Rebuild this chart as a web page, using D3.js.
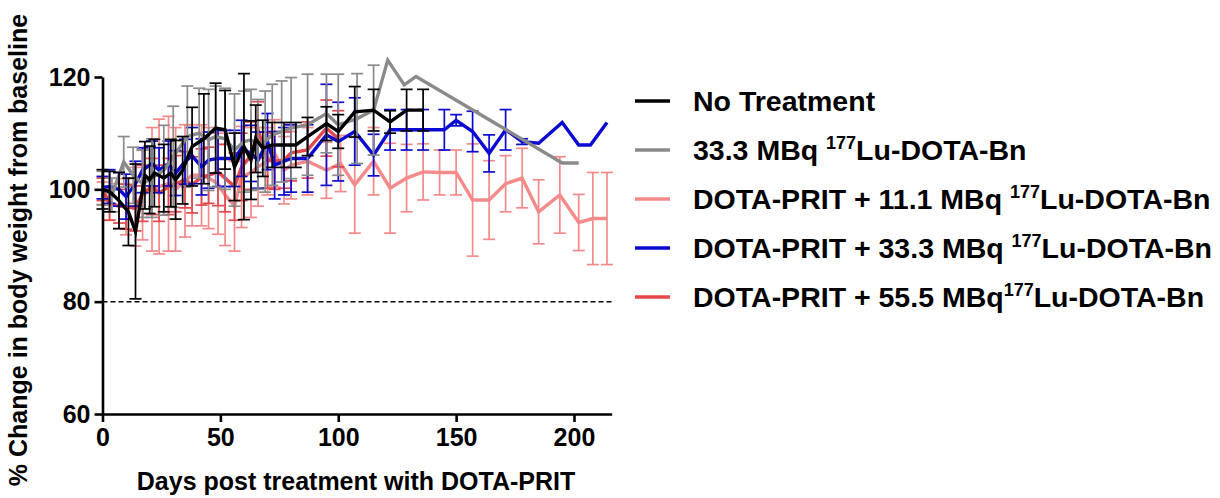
<!DOCTYPE html>
<html>
<head>
<meta charset="utf-8">
<script src="https://cdn.jsdelivr.net/npm/d3@7"></script>
<style>
  html, body { margin: 0; padding: 0; background: #fff; }
  svg { display: block; font-family: "Liberation Sans", Arial, Helvetica, sans-serif; }
</style>
</head>
<body>
<svg id="chart" width="1220" height="498"></svg>
<script>
// Body weight change (% of baseline) per treatment group, mean ± error
const blackDays = [0,3,7,11,14,18,20,22,26,29,31,34,38,43,48,52,56,60,63,65,68,72,77,82,87,95,100,107,115,122,129,136];
const blackMean = [100,99.6,98,96,92.5,102.5,101.7,102.9,102,102.9,101.7,103.4,107.6,109,110.9,110.6,104,107.6,105.2,109,107.3,107.9,107.9,107.9,109.4,111.7,110.3,113.8,114.1,112,114.1,114.1];
const blackErr  = [3.5,3.6,5,6,12,6,6,6,6,6,7,6,7,8,8,7,6,13,7,6,5,4,4,4,3.4,3,3,4.5,3.7,2,3.7,3.7];

const grayDays = [0,4,9,13,17,21,26,30,36,41,45,48,52,56,60,63,66,69,72,76,80,87,95,100,108,115,121,128,133,195,202];
const grayMean = [100.2,99,104.9,102.5,101,102,103.4,105.8,109.4,110,108.8,109.4,109,107,108.5,108.8,108,108.5,109.7,110.3,110.9,111.5,113.5,111.5,112.6,114.1,123,118.6,120.1,104.7,104.7];
const grayErr  = [3,3,4.5,5,6,7,8,9,9,8,9,9,9,10,9,9,8,9,9,9,9,9,7,9,8,8,0,0,0,0,0];

const pinkDays = [0,3,7,10,14,17,21,24,28,31,35,38,42,45,49,52,56,59,63,66,70,73,77,80,87,95,101,107,115,122,129,136,143,150,157,164,171,178,185,194,202,208,214];
const pinkMean = [99.3,97.5,97,96.9,96.9,99,100,100.5,101,100,101.5,102.5,102.5,102,101,99,97,102.2,103,104,105,106.4,103.4,104.3,105,103.4,104.6,100.8,105,100.2,102,103.1,103,103,98.1,98.1,101,102,96,99,94.1,94.8,94.8];
const pinkErr  = [2,3,4,5,7,8,11,12,12,11,10,9,9,9,9,9,8,9,8,7,6,6,6,6,6,5,5,8.6,6,8,6,5,4,4,10,7,5,5.3,5.7,6.8,5,8.2,8.2];

const blueDays = [0,3,7,10,14,17,21,24,28,31,35,38,42,45,49,52,56,59,63,66,70,73,77,80,87,95,100,107,115,122,129,136,145,150,157,164,171,178,185,195,202,207,214];
const blueMean = [100.3,100.5,100,98.7,101,103.4,104.6,103.4,104.6,102.9,104.9,106,104,105.2,105.5,105.5,105.5,107.3,106.4,105.2,108.5,104.3,105,105.5,105.5,109.7,108.5,110.3,106.1,110.6,110.6,110.6,110.6,112.3,110.3,106.4,110.6,108.5,108.2,111.9,107.9,107.9,111.9];
const blueErr  = [2,3,3,4,4,4,4,4,4,4,4,5,5,5,5,5,5,5,5,5,5,6,6,6,6,9,7,6,3.7,3.6,3.6,3.6,3.6,1,3.6,3.3,3.6,0.5,0,0,0,0,0];

const redDays = [0,3,7,10,14,17,21,24,28,31,35,38,42,45,49,52,56,59,63,66,70,73,77,80,87,95,100];
const redMean = [100,97.5,97,96.9,96.6,99.3,100.5,99.3,100.5,101,101.7,100.8,102.2,102.5,103.1,102,100.5,104,106,110.6,105.2,105,105.2,106.5,107,110.9,109];
const redErr  = [2,3,3,4,4,5,5,5,5,5,5,5,5,5,6,6,6,6,6,5,5,5,5,5,5,5,5];

const xTicks = [0, 50, 100, 150, 200];
const yTicks = [60, 80, 100, 120];
const toxicityLimit = 80;

const xTitle = "Days post treatment with DOTA-PRIT";
const yTitle = "% Change in body weight from baseline";

// legend entries: [plain text, superscript, plain text]
const legendLabels = [
  ["No Treatment", "", ""],
  ["33.3 MBq ", "177", "Lu-DOTA-Bn"],
  ["DOTA-PRIT + 11.1 MBq ", "177", "Lu-DOTA-Bn"],
  ["DOTA-PRIT + 33.3 MBq ", "177", "Lu-DOTA-Bn"],
  ["DOTA-PRIT + 55.5 MBq", "177", "Lu-DOTA-Bn"]
];

const groups = [
  { days: blackDays, mean: blackMean, err: blackErr, color: "#000000", legend: 0 },
  { days: grayDays,  mean: grayMean,  err: grayErr,  color: "#8a8a8a", legend: 1 },
  { days: pinkDays,  mean: pinkMean,  err: pinkErr,  color: "#f48a8a", legend: 2 },
  { days: blueDays,  mean: blueMean,  err: blueErr,  color: "#0a0ad2", legend: 3 },
  { days: redDays,   mean: redMean,   err: redErr,   color: "#e4474b", legend: 4 }
];
// painting order, back to front
const drawOrder = [2, 4, 3, 1, 0];

const svg = d3.select("#chart");
const x = d3.scaleLinear().domain([0, 216]).range([102.5, 611.7]);
const y = d3.scaleLinear().domain([60, 120]).range([414, 77]);

// reference line at 80 %
svg.append("line")
  .attr("x1", x(0)).attr("x2", x(216))
  .attr("y1", y(toxicityLimit)).attr("y2", y(toxicityLimit))
  .attr("stroke", "#000").attr("stroke-width", 1.5)
  .attr("stroke-dasharray", "5,3");

const line = d3.line().x(d => x(d.day)).y(d => y(d.m));
const capHalf = 6;

drawOrder.forEach(gi => {
  const g = groups[gi];
  const pts = g.days.map((d, i) => ({ day: d, m: g.mean[i], e: g.err[i] }));
  const layer = svg.append("g");
  const bars = layer.append("g")
    .attr("stroke", g.color).attr("stroke-width", 1.7).attr("fill", "none");
  pts.filter(p => p.e > 0).forEach(p => {
    const cx = x(p.day), y1 = y(p.m + p.e), y2 = y(p.m - p.e);
    bars.append("line").attr("x1", cx).attr("x2", cx).attr("y1", y1).attr("y2", y2);
    bars.append("line").attr("x1", cx - capHalf).attr("x2", cx + capHalf).attr("y1", y1).attr("y2", y1);
    bars.append("line").attr("x1", cx - capHalf).attr("x2", cx + capHalf).attr("y1", y2).attr("y2", y2);
  });
  layer.append("path")
    .attr("d", line(pts))
    .attr("fill", "none")
    .attr("stroke", g.color)
    .attr("stroke-width", 3.4)
    .attr("stroke-linejoin", "miter");
});

// axes
const fontSize = 25;
const yAxis = svg.append("g")
  .attr("transform", `translate(${x(0)},0)`)
  .call(d3.axisLeft(y).tickValues(yTicks).tickSize(8).tickSizeOuter(0).tickPadding(4));
const xAxis = svg.append("g")
  .attr("transform", `translate(0,${y(60)})`)
  .call(d3.axisBottom(x).tickValues(xTicks).tickSize(8).tickSizeOuter(0).tickPadding(6));
[yAxis, xAxis].forEach(a => {
  a.select(".domain").attr("stroke", "#000").attr("stroke-width", 2.6);
  a.selectAll(".tick line").attr("stroke", "#000").attr("stroke-width", 2.6);
  a.selectAll(".tick text")
    .attr("fill", "#000")
    .style("font-family", "'Liberation Sans', Arial, sans-serif")
    .style("font-size", fontSize + "px")
    .style("font-weight", "bold");
});

svg.append("text")
  .attr("x", 356).attr("y", 490)
  .attr("text-anchor", "middle")
  .style("font-size", "25px").style("font-weight", "bold")
  .text(xTitle);

svg.append("text")
  .attr("transform", "translate(27,250) rotate(-90)")
  .attr("text-anchor", "middle")
  .style("font-size", "25px").style("font-weight", "bold")
  .text(yTitle);

// legend
const legendTop = 101, legendStep = 49;
legendLabels.forEach((lab, i) => {
  const g = groups.find(s => s.legend === i);
  const cy = legendTop + i * legendStep;
  svg.append("line")
    .attr("x1", 635).attr("x2", 670).attr("y1", cy).attr("y2", cy)
    .attr("stroke", g.color).attr("stroke-width", 3.4);
  const t = svg.append("text")
    .attr("x", 693).attr("y", cy + 10)
    .style("font-size", "28.5px").style("font-weight", "bold");
  t.append("tspan").text(lab[0]);
  if (lab[1]) {
    t.append("tspan").attr("dy", -11).style("font-size", "18px").text(lab[1]);
    t.append("tspan").attr("dy", 11).text(lab[2]);
  }
});
</script>
</body>
</html>
